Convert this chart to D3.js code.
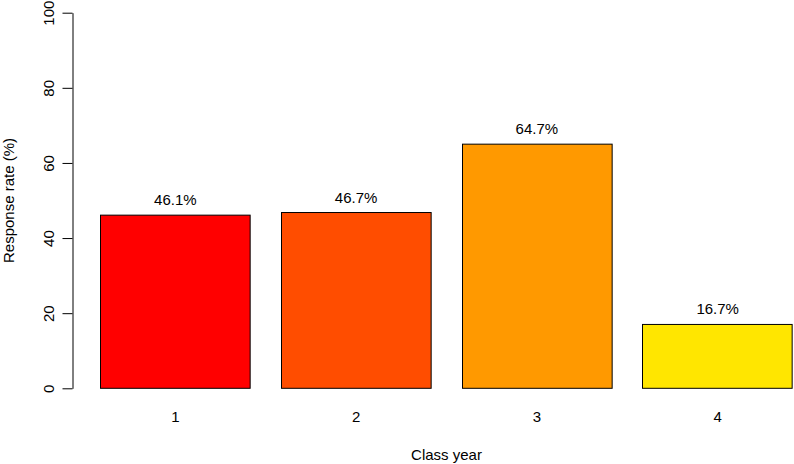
<!DOCTYPE html>
<html>
<head>
<meta charset="utf-8">
<script src="https://cdn.jsdelivr.net/npm/d3@7"></script>
<style>
  body { margin: 0; background: #fff; }
  svg { display: block; font-family: "Liberation Sans", Arial, sans-serif; }
</style>
</head>
<body>
<div id="chart"></div>
<script>
// class years, bar heights, printed labels
const YEARS = ["1", "2", "3", "4"];
const RATES = [46.1, 46.8, 65.0, 17.0];
const LABELS = ["46.1%", "46.7%", "64.7%", "16.7%"];
const COLORS = ["#FF0000", "#FF4D00", "#FF9900", "#FFE600"];
const Y_TICKS = [0, 20, 40, 60, 80, 100];

const width = 794;
const height = 464;
const fs = 15;

const svg = d3
  .select("#chart")
  .append("svg")
  .attr("width", width)
  .attr("height", height);

// R barplot coordinates: bars at 0.2 + i*1.2 with width 1
const x = d3.scaleLinear().domain([0.2, 4.8]).range([100, 793]);
const y = d3.scaleLinear().domain([0, 100]).range([388.3, 12.7]);

const bars = YEARS.map((d, i) => ({
  year: d,
  value: RATES[i],
  label: LABELS[i],
  color: COLORS[i],
  x0: 0.2 + i * 1.2,
  x1: 1.2 + i * 1.2,
}));

svg
  .selectAll("rect.bar")
  .data(bars)
  .join("rect")
  .attr("class", "bar")
  .attr("x", (d) => Math.round(x(d.x0)) + 0.5)
  .attr("y", (d) => y(d.value))
  .attr("width", (d) => x(d.x1) - x(d.x0) - 1)
  .attr("height", (d) => y(0) - y(d.value))
  .attr("fill", (d) => d.color)
  .attr("stroke", "#000")
  .attr("stroke-width", 1);

svg
  .selectAll("text.val")
  .data(bars)
  .join("text")
  .attr("class", "val")
  .attr("x", (d) => x((d.x0 + d.x1) / 2))
  .attr("y", (d) => y(d.value) - 10)
  .attr("text-anchor", "middle")
  .attr("font-size", fs)
  .attr("fill", "#000")
  .text((d) => d.label);

// y axis
const yAxis = svg
  .append("g")
  .attr("transform", "translate(72.5,0)")
  .call(d3.axisLeft(y).tickValues(Y_TICKS).tickSize(10).tickSizeOuter(0));
yAxis.select(".domain").attr("stroke", "#000");
yAxis.selectAll(".tick line").attr("stroke", "#000");
yAxis
  .selectAll(".tick text")
  .attr("font-size", fs)
  .attr("font-family", null)
  .attr("fill", "#000")
  .attr("x", null)
  .attr("text-anchor", "middle")
  .attr("transform", "translate(-24,0) rotate(-90)")
  .attr("dy", "0.35em");

// x category labels
svg
  .selectAll("text.cat")
  .data(bars)
  .join("text")
  .attr("class", "cat")
  .attr("x", (d) => x((d.x0 + d.x1) / 2))
  .attr("y", 422)
  .attr("text-anchor", "middle")
  .attr("font-size", fs)
  .text((d) => d.year);

svg
  .append("text")
  .attr("x", x(2.5))
  .attr("y", 460)
  .attr("text-anchor", "middle")
  .attr("font-size", fs)
  .text("Class year");

svg
  .append("text")
  .attr("transform", `translate(14,${y(50)}) rotate(-90)`)
  .attr("text-anchor", "middle")
  .attr("font-size", fs)
  .text("Response rate (%)");
</script>
</body>
</html>
